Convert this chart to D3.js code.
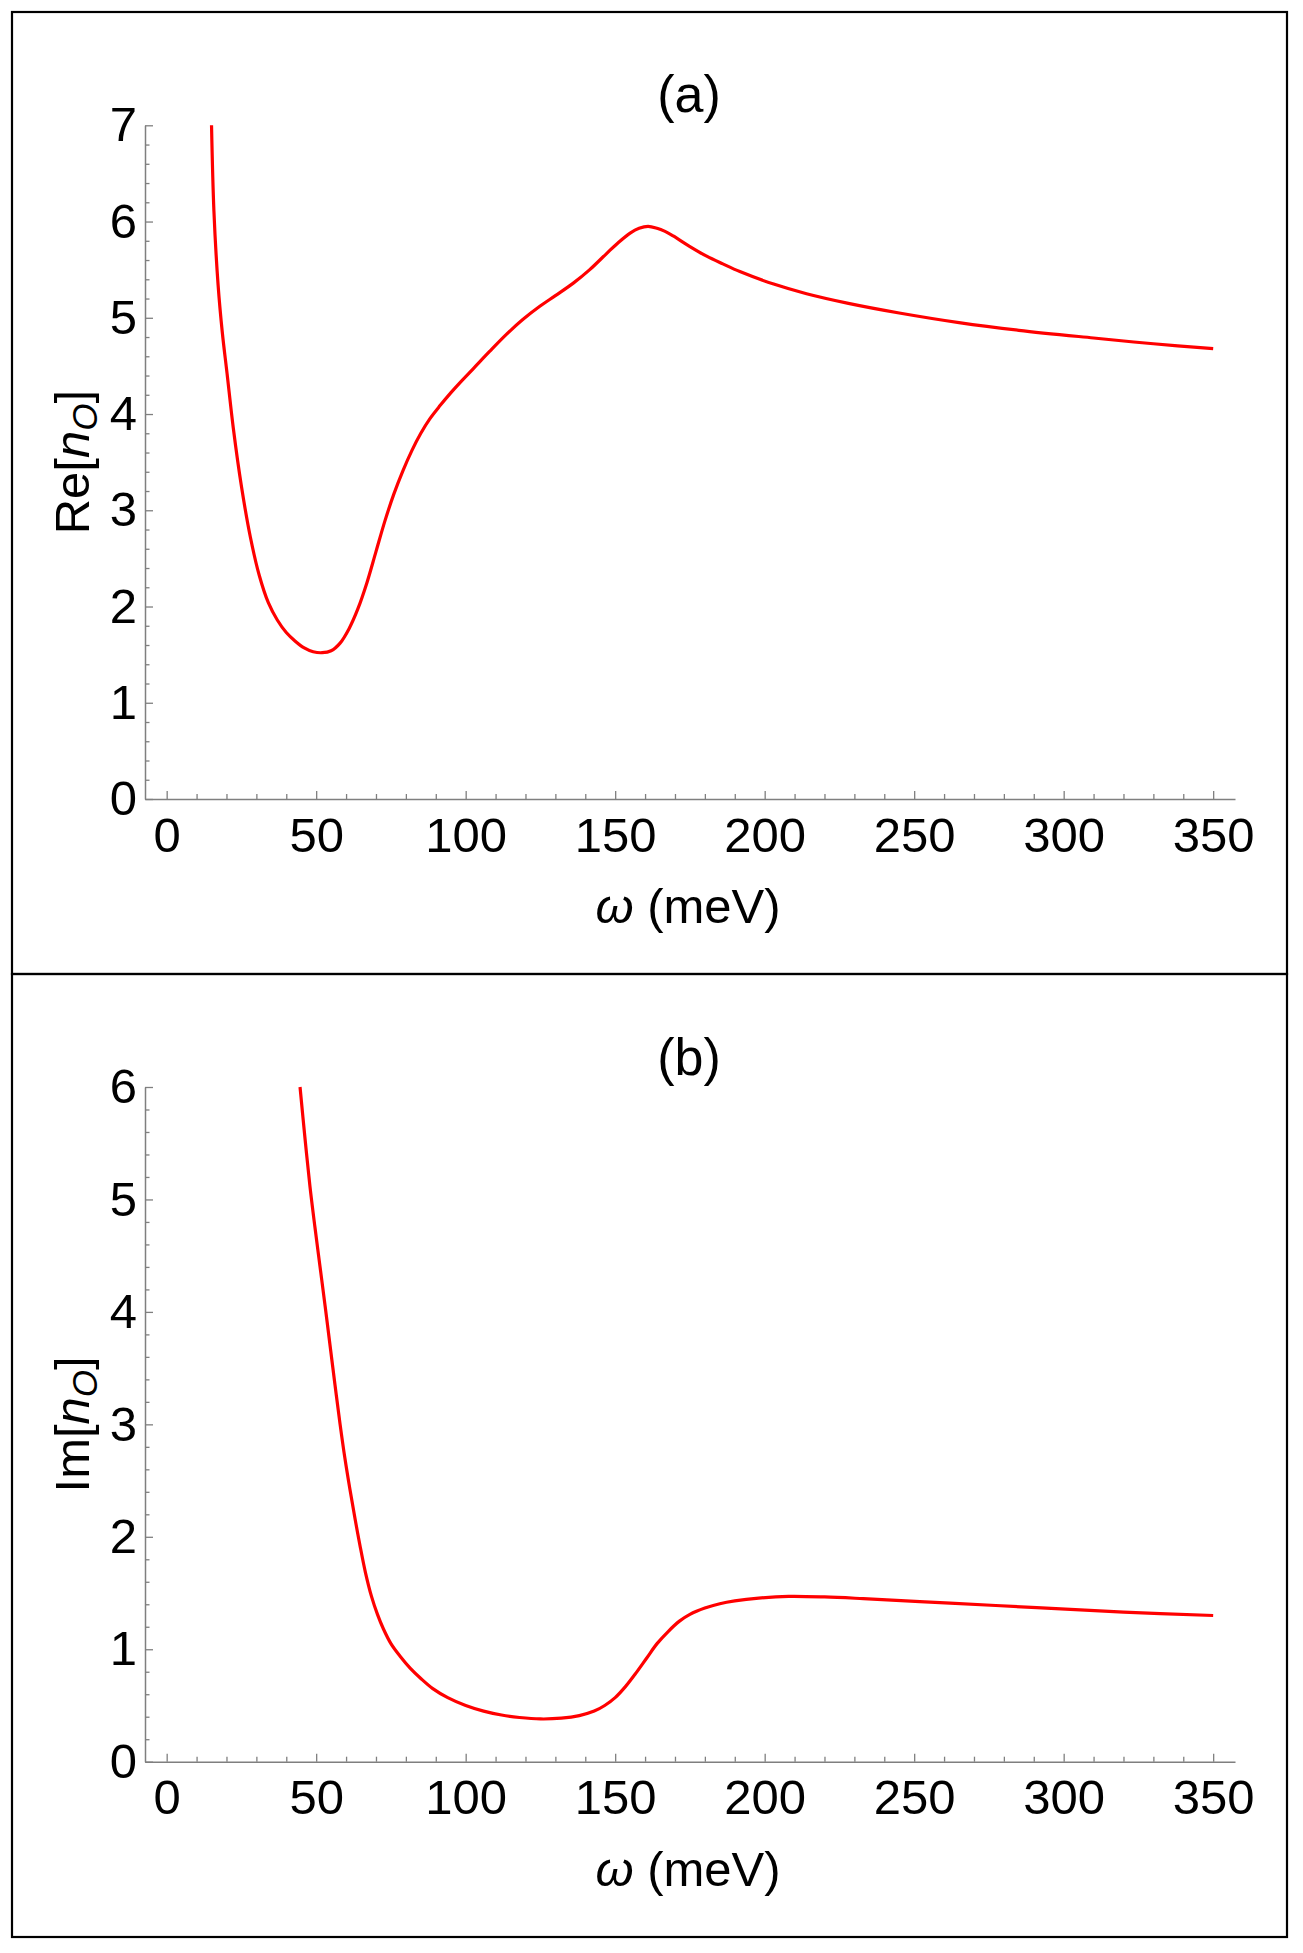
<!DOCTYPE html>
<html>
<head>
<meta charset="utf-8">
<script src="https://cdn.jsdelivr.net/npm/d3@7"></script>
<style>
    body { margin: 0; background: #fff; }
    text { font-family: 'Liberation Sans', Arial, sans-serif; fill: #000; }
</style>
</head>
<body>
<div id="chart"></div>
<script>
// panel (a): Re[n_O] vs omega (meV)
const reOmega = [15, 15.8, 17.2, 18.6, 20.2, 22.3, 25, 28, 31, 34, 37, 40, 43, 46, 49, 52, 55, 58, 61, 64, 67, 70, 73, 76, 79, 82, 85, 88, 91.5, 95, 98.5, 102.5, 108, 113.7, 119, 124.8, 130, 136, 141.5, 147.2, 151, 155, 158, 161, 164, 166.5, 169.4, 175, 180.6, 186, 191.7, 203, 214, 228, 245, 265, 285, 310, 330, 350];
const reValues = [7.0, 6.11, 5.34, 4.85, 4.42, 3.85, 3.25, 2.72, 2.32, 2.04, 1.86, 1.73, 1.64, 1.57, 1.53, 1.52, 1.54, 1.62, 1.77, 1.98, 2.25, 2.57, 2.89, 3.17, 3.41, 3.62, 3.8, 3.95, 4.09, 4.22, 4.34, 4.47, 4.65, 4.83, 4.98, 5.12, 5.23, 5.36, 5.5, 5.67, 5.78, 5.88, 5.93, 5.95, 5.93, 5.9, 5.85, 5.74, 5.64, 5.56, 5.48, 5.35, 5.25, 5.15, 5.05, 4.95, 4.87, 4.79, 4.73, 4.68];

// panel (b): Im[n_O] vs omega (meV)
const imOmega = [44.6, 46.2, 47.9, 49.6, 51.3, 53, 54.6, 56.3, 58, 59.6, 61.3, 63, 64.6, 66.5, 68.5, 70.5, 72.5, 75, 78, 81.5, 85, 89, 94, 100, 106, 112, 118, 125, 132, 138, 143, 146.5, 150, 153.5, 157, 160.5, 164, 167.8, 171.5, 175, 180, 185, 190, 198, 208, 220, 233, 262, 291, 320, 350];
const imValues = [6.0, 5.56, 5.12, 4.75, 4.4, 4.05, 3.71, 3.35, 3.0, 2.7, 2.42, 2.16, 1.93, 1.68, 1.47, 1.31, 1.18, 1.05, 0.94, 0.83, 0.74, 0.65, 0.57, 0.5, 0.45, 0.415, 0.393, 0.38, 0.387, 0.41, 0.45, 0.5, 0.57, 0.67, 0.79, 0.92, 1.05, 1.16, 1.25, 1.31, 1.366, 1.405, 1.43, 1.455, 1.47, 1.465, 1.45, 1.41, 1.37, 1.33, 1.3];

const xTicks = [0, 50, 100, 150, 200, 250, 300, 350];
const reTicks = [0, 1, 2, 3, 4, 5, 6, 7];
const imTicks = [0, 1, 2, 3, 4, 5, 6];

const width = 1303;
const height = 1953;
const fontSize = 49;
const axisColor = '#7f7f7f';

const svg = d3.select('#chart')
    .append('svg')
    .attr('width', width)
    .attr('height', height);

svg.append('rect')
    .attr('width', width)
    .attr('height', height)
    .attr('fill', '#fff');

// same omega scale for both panels
let x = d3.scaleLinear()
    .domain([-7.25, 357.3])
    .range([145, 1235]);

function renderPanel(p) {
    let y = d3.scaleLinear()
        .domain([0, p.yMax])
        .range([p.axisY, p.topY]);

    // frame box
    svg.append('rect')
        .attr('x', 12)
        .attr('y', p.frameTop)
        .attr('width', 1275)
        .attr('height', p.frameBottom - p.frameTop)
        .attr('fill', 'none')
        .attr('stroke', '#000')
        .attr('stroke-width', 2.2);

    // minor ticks first (no labels)
    let xMinor = d3.range(0, 351, 10).filter(v => v % 50 !== 0);
    svg.append('g')
        .attr('transform', `translate(0,${p.axisY})`)
        .call(d3.axisBottom(x).tickValues(xMinor).tickSizeInner(-5).tickSizeOuter(0).tickFormat(''))
        .call(g => g.select('.domain').remove());

    let yMinor = d3.range(0, p.yMax * 5 + 1).map(i => i / 5).filter(v => Math.abs(v - Math.round(v)) > 1e-6);
    svg.append('g')
        .attr('transform', 'translate(145,0)')
        .call(d3.axisLeft(y).tickValues(yMinor).tickSizeInner(-4.5).tickSizeOuter(0).tickFormat(''))
        .call(g => g.select('.domain').remove());

    let xAxis = (g) => g
        .attr('transform', `translate(0,${p.axisY})`)
        .call(d3.axisBottom(x).tickValues(xTicks).tickSizeInner(-8).tickSizeOuter(0).tickPadding(18).tickFormat(d3.format('d')));

    let yAxis = (g) => g
        .attr('transform', 'translate(145,0)')
        .call(d3.axisLeft(y).tickValues(p.yTicks).tickSizeInner(-8).tickSizeOuter(0).tickPadding(8).tickFormat(d3.format('d')));

    svg.append('g').attr('class', 'axis').call(xAxis);
    svg.append('g').attr('class', 'axis').call(yAxis);

    svg.selectAll('.axis text')
        .style('font-size', fontSize + 'px')
        .style('font-family', "'Liberation Sans', Arial, sans-serif")
        .attr('fill', '#000');
    svg.selectAll('.tick line').attr('stroke', axisColor).attr('stroke-width', 1.3);
    svg.selectAll('.domain').attr('stroke', axisColor).attr('stroke-width', 1.5);

    // curve
    let data = p.omega.map((w, i) => ({ w: w, v: p.values[i] }));
    let line = d3.line()
        .x(d => x(d.w))
        .y(d => y(d.v))
        .curve(d3.curveCatmullRom.alpha(0.5));

    svg.append('path')
        .datum(data)
        .attr('d', line)
        .attr('fill', 'none')
        .attr('stroke', '#ff0000')
        .attr('stroke-width', 3.2)
        .attr('stroke-linejoin', 'round');

    // panel title
    svg.append('text')
        .attr('x', 689)
        .attr('y', p.axisY - 687)
        .attr('text-anchor', 'middle')
        .style('font-size', '52px')
        .text(p.title);

    // x label
    let xl = svg.append('text')
        .attr('x', 688)
        .attr('y', p.axisY + 124)
        .attr('text-anchor', 'middle')
        .style('font-size', fontSize + 'px');
    xl.append('tspan').style('font-style', 'italic').text('ω');
    xl.append('tspan').text(' (meV)');

    // y label, rotated
    let yl = svg.append('text')
        .attr('transform', `translate(89,${(p.axisY + p.topY) / 2}) rotate(-90)`)
        .attr('text-anchor', 'middle')
        .style('font-size', fontSize + 'px');
    yl.append('tspan').text(p.yPrefix + '[');
    yl.append('tspan').style('font-style', 'italic').text('n');
    yl.append('tspan').style('font-style', 'italic').style('font-size', '35px').attr('dy', 8).text('O');
    yl.append('tspan').attr('dy', -8).text(']');
}

renderPanel({
    frameTop: 12, frameBottom: 974,
    axisY: 799, topY: 125.3, yMax: 7, yTicks: reTicks,
    omega: reOmega, values: reValues,
    title: '(a)', yPrefix: 'Re'
});

renderPanel({
    frameTop: 974, frameBottom: 1937,
    axisY: 1761.7, topY: 1087, yMax: 6, yTicks: imTicks,
    omega: imOmega, values: imValues,
    title: '(b)', yPrefix: 'Im'
});
</script>
</body>
</html>
